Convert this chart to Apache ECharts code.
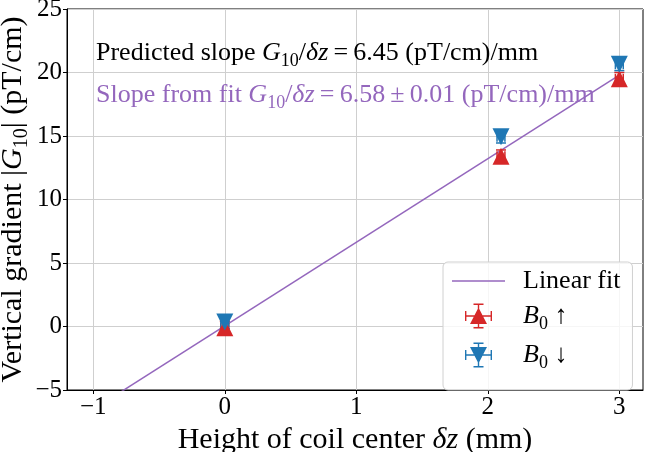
<!DOCTYPE html>
<html>
<head>
<meta charset="utf-8">
<script src="https://cdn.jsdelivr.net/npm/echarts@6/dist/echarts.min.js"></script>
<style>
  html, body { margin: 0; padding: 0; background: #fff; }
  #chart { width: 646px; height: 452px; }
</style>
</head>
<body>
<div id="chart"></div>
<script>
// measured points, B0 up / B0 down
const upX = [0.0, 2.1, 3.0];
const upY = [-0.1, 13.4, 19.5];
const upXErr = [0.03, 0.03, 0.03];
const upYErr = [0.5, 0.5, 0.5];

const downX = [0.0, 2.1, 3.0];
const downY = [0.35, 14.95, 20.65];
const downXErr = [0.03, 0.03, 0.03];
const downYErr = [0.5, 0.5, 0.5];

// linear fit end points
const fitX = [-1.0, 3.0];
const fitY = [-6.53, 19.79];

const xTicks = [-1, 0, 1, 2, 3];

const RED = "#d62728";
const BLUE = "#1f77b4";
const PURPLE = "#9467bd";
const FONT = "Liberation Serif";

const minus = (v) => (v < 0 ? "\u2212" + Math.abs(v) : String(v));

const makeRich = (size) => ({
  n: { fontFamily: FONT, fontSize: size, lineHeight: size + 8 },
  i: { fontFamily: FONT, fontSize: size, fontStyle: "italic", lineHeight: size + 8 },
  s: {
    fontFamily: FONT,
    fontSize: Math.round(size * 0.68),
    lineHeight: Math.round(size * 0.68),
    verticalAlign: "bottom",
  },
  g: { width: 13 },
});
const axisRich = makeRich(30);
const textRich = makeRich(26);

const triUpIcon =
  "path://M12.8 0H14.2V25H12.8Z M8.5 0H18.5V1.4H8.5Z M8.5 23.6H18.5V25H8.5Z " +
  "M0 11.8H27V13.2H0Z M0 7.5H1.4V17.5H0Z M25.6 7.5H27V17.5H25.6Z M13.5 4L22 20.5H5Z";
const triDownIcon =
  "path://M12.8 0H14.2V25H12.8Z M8.5 0H18.5V1.4H8.5Z M8.5 23.6H18.5V25H8.5Z " +
  "M0 11.8H27V13.2H0Z M0 7.5H1.4V17.5H0Z M25.6 7.5H27V17.5H25.6Z M5 4.5H22L13.5 21Z";
const lineIcon = "path://M0 0H53V1.5H0Z";

const zip = (xs, ys) => xs.map((x, i) => [x, ys[i]]);
const zipErr = (xs, ys, xe, ye) => xs.map((x, i) => [x, ys[i], xe[i], ye[i]]);

const errorBars = (color) => (params, api) => {
  const x = api.value(0);
  const y = api.value(1);
  const ex = api.value(2);
  const ey = api.value(3);
  const c = api.coord([x, y]);
  const top = api.coord([x, y + ey]);
  const bottom = api.coord([x, y - ey]);
  const left = api.coord([x - ex, y]);
  const right = api.coord([x + ex, y]);
  const cap = 5;
  const style = { stroke: color, lineWidth: 1.5 };
  const seg = (x1, y1, x2, y2) => ({
    type: "line",
    shape: { x1, y1, x2, y2 },
    style,
  });
  return {
    type: "group",
    children: [
      seg(c[0], top[1], c[0], bottom[1]),
      seg(c[0] - cap, top[1], c[0] + cap, top[1]),
      seg(c[0] - cap, bottom[1], c[0] + cap, bottom[1]),
      seg(left[0], c[1], right[0], c[1]),
      seg(left[0], c[1] - cap, left[0], c[1] + cap),
      seg(right[0], c[1] - cap, right[0], c[1] + cap),
    ],
  };
};

const chart = echarts.init(document.getElementById("chart"));

chart.setOption({
  animation: false,
  backgroundColor: "#fff",
  grid: {
    left: 67,
    right: 3,
    top: 9,
    bottom: 62,
    outerBoundsMode: "none",
    show: true,
    borderColor: "#000",
    borderWidth: 1,
    backgroundColor: "transparent",
  },
  xAxis: {
    type: "value",
    min: -1.2,
    max: 3.18,
    name: "{n|Height of coil center }{i|\u03b4z}{n| (mm)}",
    nameLocation: "middle",
    nameGap: 31,
    nameMoveOverlap: false,
    nameTextStyle: { color: "#000", rich: axisRich },
    axisLine: { show: true, onZero: false, lineStyle: { color: "#000", width: 1 } },
    axisTick: {
      show: true,
      length: 4,
      lineStyle: { color: "#000" },
      customValues: xTicks,
    },
    axisLabel: {
      customValues: xTicks,
      formatter: minus,
      fontFamily: FONT,
      fontSize: 25,
      color: "#000",
      margin: 5,
    },
    splitLine: { show: true, lineStyle: { color: "#cfcfcf", width: 1 } },
  },
  yAxis: {
    type: "value",
    min: -5,
    max: 25,
    interval: 5,
    name: "{n|Vertical gradient |}{i|G}{s|10}{n|| (pT/cm)}",
    nameLocation: "middle",
    nameGap: 35,
    nameMoveOverlap: false,
    nameTextStyle: { color: "#000", rich: axisRich },
    axisLine: { show: true, onZero: false, lineStyle: { color: "#000", width: 1 } },
    axisTick: { show: true, length: 4, lineStyle: { color: "#000" } },
    axisLabel: {
      formatter: minus,
      fontFamily: FONT,
      fontSize: 25,
      color: "#000",
      margin: 5,
    },
    splitLine: { show: true, lineStyle: { color: "#cfcfcf", width: 1 } },
  },
  legend: {
    orient: "vertical",
    left: 443,
    top: 262,
    itemWidth: 53,
    itemHeight: 25,
    itemGap: 9,
    padding: [6, 12, 18, 9],
    backgroundColor: "rgba(255,255,255,0.8)",
    borderColor: "#d0d0d0",
    borderWidth: 1,
    borderRadius: 5,
    textStyle: { color: "#000", rich: textRich },
    formatter: (name) => {
      if (name === "Linear fit") return "{g|}{n|Linear fit}";
      if (name === "B0 up") return "{g|}{i|B}{s|0}{n| \u2191}";
      return "{g|}{i|B}{s|0}{n| \u2193}";
    },
    data: [
      { name: "Linear fit", icon: lineIcon },
      { name: "B0 up", icon: triUpIcon },
      { name: "B0 down", icon: triDownIcon },
    ],
  },
  graphic: [
    {
      type: "text",
      x: 96,
      y: 53,
      z: 10,
      style: {
        text:
          "{n|Predicted slope }{i|G}{s|10}{n|/}{i|\u03b4z}{n|\u2009=\u20096.45 (pT/cm)/mm}",
        fill: "#000",
        verticalAlign: "middle",
        rich: textRich,
      },
    },
    {
      type: "text",
      x: 96,
      y: 95,
      z: 10,
      style: {
        text:
          "{n|Slope from fit }{i|G}{s|10}{n|/}{i|\u03b4z}{n|\u2009=\u20096.58\u2009\u00b1\u20090.01 (pT/cm)/mm}",
        fill: PURPLE,
        verticalAlign: "middle",
        rich: textRich,
      },
    },
  ],
  series: [
    {
      name: "Linear fit",
      type: "line",
      data: zip(fitX, fitY),
      symbol: "none",
      z: 1,
      color: PURPLE,
      lineStyle: { color: PURPLE, width: 1.5 },
    },
    {
      name: "B0 up err",
      type: "custom",
      renderItem: errorBars(RED),
      data: zipErr(upX, upY, upXErr, upYErr),
      z: 2,
    },
    {
      name: "B0 down err",
      type: "custom",
      renderItem: errorBars(BLUE),
      data: zipErr(downX, downY, downXErr, downYErr),
      z: 2,
    },
    {
      name: "B0 up",
      type: "scatter",
      data: zip(upX, upY),
      symbol: "triangle",
      symbolSize: 17,
      color: RED,
      itemStyle: { color: RED, opacity: 1 },
      z: 3,
    },
    {
      name: "B0 down",
      type: "scatter",
      data: zip(downX, downY),
      symbol: "triangle",
      symbolRotate: 180,
      symbolSize: 17,
      color: BLUE,
      itemStyle: { color: BLUE, opacity: 1 },
      z: 3,
    },
  ],
});
</script>
</body>
</html>
